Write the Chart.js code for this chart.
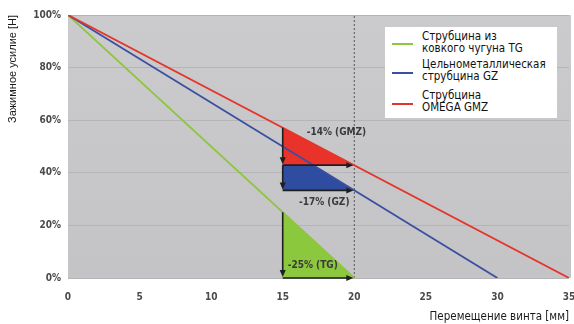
<!DOCTYPE html>
<html>
<head>
<meta charset="utf-8">
<script src="https://cdn.jsdelivr.net/npm/chart.js@4.4.1/dist/chart.umd.min.js"></script>
<style>
    html, body { margin: 0; padding: 0; background: #fff; }
    #wrap { position: relative; width: 574px; height: 324px; }
    #legend {
        position: absolute; left: 385px; top: 27px; width: 172px; height: 91px;
        background: #fff; font-family: 'Liberation Sans Narrow', 'DejaVu Sans Condensed', sans-serif;
        font-size: 11.5px; line-height: 12px; color: #111;
    }
    #legend .item { position: absolute; left: 0; }
    #legend .swatch { position: absolute; left: 7px; width: 21px; height: 2px; }
    #legend .text { position: absolute; left: 37px; white-space: nowrap; }
</style>
</head>
<body>
<div id="wrap">
    <canvas id="chart" width="574" height="324"></canvas>
    <div id="legend"></div>
</div>
<script>
// Series: clamping force [%] vs screw displacement [mm]
const seriesNames = ['Струбцина из\nковкого чугуна TG', 'Цельнометаллическая\nструбцина GZ', 'Струбцина\nOMEGA GMZ'];
const seriesColors = ['#8dc63f', '#3a4f9f', '#e5352b'];
const tgX = [0, 20];
const tgY = [100, 0];
const gzX = [0, 30];
const gzY = [100, 0];
const gmzX = [0, 35];
const gmzY = [100, 0];

// Force loss between 15 mm and 20 mm
const dropFrom = 15;
const dropTo = 20;
const gmzDrop = [57.1, 42.9];
const gzDrop = [42.9, 33.3];
const tgDrop = [25, 0];
const gzAt15 = 50;
const dropLabels = ['-14% (GMZ)', '-17% (GZ)', '-25% (TG)'];

const xTicks = [0, 5, 10, 15, 20, 25, 30, 35];
const yTicks = [0, 20, 40, 60, 80, 100];

const pts = (xs, ys) => xs.map((x, i) => ({ x, y: ys[i] }));
const tri = (top, bottom) => [
    { x: dropFrom, y: top }, { x: dropFrom, y: bottom }, { x: dropTo, y: bottom }, { x: dropFrom, y: top }
];

const narrow = "'Liberation Sans Narrow', 'DejaVu Sans Condensed', sans-serif";
const tickFont = { family: narrow, size: 10, weight: 'bold' };

const bgPlugin = {
    id: 'plotBg',
    beforeDraw(chart) {
        const { ctx, chartArea: a } = chart;
        const g = ctx.createLinearGradient(0, a.top, 0, a.bottom);
        g.addColorStop(0, '#cbcbcd');
        g.addColorStop(1, '#c4c4c6');
        ctx.save();
        ctx.fillStyle = g;
        ctx.fillRect(a.left, a.top, a.right - a.left + 2, a.bottom - a.top);
        ctx.restore();
    }
};

function arrow(ctx, x1, y1, x2, y2) {
    const ang = Math.atan2(y2 - y1, x2 - x1);
    const h = 7;
    ctx.beginPath();
    ctx.moveTo(x1, y1);
    ctx.lineTo(x2 - Math.cos(ang) * h * 0.8, y2 - Math.sin(ang) * h * 0.8);
    ctx.stroke();
    ctx.beginPath();
    ctx.moveTo(x2, y2);
    ctx.lineTo(x2 - h * Math.cos(ang) - 3 * Math.sin(ang), y2 - h * Math.sin(ang) + 3 * Math.cos(ang));
    ctx.lineTo(x2 - h * Math.cos(ang) + 3 * Math.sin(ang), y2 - h * Math.sin(ang) - 3 * Math.cos(ang));
    ctx.closePath();
    ctx.fill();
}

const arrowPlugin = {
    id: 'dropArrows',
    afterDatasetsDraw(chart) {
        const { ctx, scales: { x, y } } = chart;
        ctx.save();
        ctx.strokeStyle = '#1e1e1e';
        ctx.fillStyle = '#1e1e1e';
        ctx.lineWidth = 1.6;
        const x1 = x.getPixelForValue(dropFrom);
        const x2 = x.getPixelForValue(dropTo);
        [gmzDrop, gzDrop, tgDrop].forEach(([top, bottom]) => {
            const yt = y.getPixelForValue(top);
            const yb = y.getPixelForValue(bottom);
            arrow(ctx, x1, yt, x1, yb - 1);
            arrow(ctx, x1, yb, x2 - 1, yb);
        });
        // labels
        ctx.font = 'bold 10px ' + narrow;
        ctx.fillStyle = '#3a3a3a';
        ctx.textAlign = 'center';
        ctx.textBaseline = 'middle';
        ctx.fillText(dropLabels[0], x.getPixelForValue(18.75), y.getPixelForValue(gmzDrop[0]) + 5);
        ctx.fillText(dropLabels[1], x.getPixelForValue(17.9), y.getPixelForValue(gzDrop[1]) + 12);
        ctx.fillText(dropLabels[2], x.getPixelForValue(17.1), y.getPixelForValue(tgDrop[0] * 0.2) + 1);
        ctx.restore();
    }
};

// datasets earlier in the list are painted on top
new Chart(document.getElementById('chart'), {
    type: 'scatter',
    data: {
        datasets: [
            { label: seriesNames[2], data: pts(gmzX, gmzY), showLine: true, borderColor: seriesColors[2], borderWidth: 1.8, pointRadius: 0 },
            { label: seriesNames[1], data: pts(gzX, gzY), showLine: true, borderColor: seriesColors[1], borderWidth: 1.8, pointRadius: 0 },
            { label: seriesNames[0], data: pts(tgX, tgY), showLine: true, borderColor: seriesColors[0], borderWidth: 1.8, pointRadius: 0 },
            { data: pts([dropTo, dropTo], [0, 100]), showLine: true, borderColor: '#555', borderWidth: 1, borderDash: [2, 2], pointRadius: 0 },
            { data: tri(gmzDrop[0], gmzDrop[1]), showLine: true, borderWidth: 0, borderColor: 'transparent', backgroundColor: '#e9322a', fill: 'shape', pointRadius: 0 },
            { data: tri(gzAt15, gzDrop[1]), showLine: true, borderWidth: 0, borderColor: 'transparent', backgroundColor: '#2f4da0', fill: 'shape', pointRadius: 0 },
            { data: tri(tgDrop[0], tgDrop[1]), showLine: true, borderWidth: 0, borderColor: 'transparent', backgroundColor: '#8cc83e', fill: 'shape', pointRadius: 0 },
        ]
    },
    options: {
        responsive: false,
        animation: false,
        layout: { padding: { top: 15, right: 0, left: 0, bottom: 0 } },
        plugins: { legend: { display: false }, tooltip: { enabled: false } },
        scales: {
            x: {
                type: 'linear', min: 0, max: 35,
                afterBuildTicks: s => { s.ticks = xTicks.map(v => ({ value: v })); },
                afterFit: s => { s.height = 46; s.paddingRight = 5; s.paddingLeft = 0; },
                grid: { display: false },
                border: { display: false },
                ticks: { font: tickFont, color: '#4a4a4a', padding: 5 },
                title: { display: true, text: 'Перемещение винта [мм]', align: 'end', color: '#1a1a1a', font: { family: narrow, size: 11.5 }, padding: { top: 2, bottom: 0 } }
            },
            y: {
                min: 0, max: 100,
                afterBuildTicks: s => { s.ticks = yTicks.map(v => ({ value: v })); },
                afterFit: s => { s.width = 68; },
                grid: { color: '#b5b5b7', lineWidth: 1, drawTicks: false },
                border: { display: false },
                ticks: { font: tickFont, color: '#4a4a4a', padding: 7, callback: v => v + '%' },
                title: { display: true, text: 'Зажимное усилие [H]', align: 'end', color: '#1a1a1a', font: { family: "'Liberation Sans', Arial, sans-serif", size: 11 }, padding: { top: 6, bottom: 8 } }
            }
        }
    },
    plugins: [bgPlugin, arrowPlugin]
});

// legend overlay built from the series arrays
const legendEl = document.getElementById('legend');
const rowTops = [2.5, 31, 62];
seriesNames.forEach((name, i) => {
    const item = document.createElement('div');
    item.className = 'item';
    item.style.top = rowTops[i] + 'px';
    item.innerHTML = `<div class="swatch" style="top:13.5px;background:${seriesColors[i]}"></div>` +
        `<div class="text">${name.replace('\n', '<br>')}</div>`;
    legendEl.appendChild(item);
});
</script>
</body>
</html>
